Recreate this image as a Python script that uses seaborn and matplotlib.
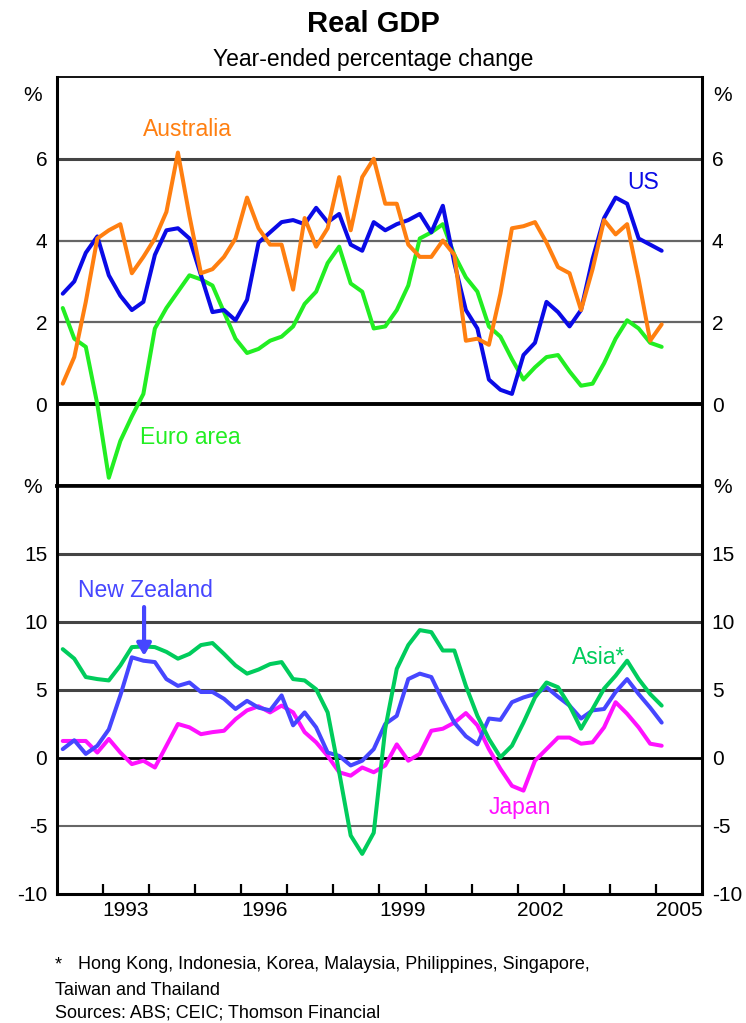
import pandas as pd
import seaborn as sns
import matplotlib.pyplot as plt

# quarterly data, March 1992 to March 2005
quarters = pd.period_range('1992Q1', '2005Q1', freq='Q')

us = [2.7, 3.0, 3.7, 4.1, 3.15, 2.65, 2.3, 2.5, 3.65, 4.25, 4.3, 4.05, 3.15, 2.25,
      2.3, 2.05, 2.55, 3.95, 4.2, 4.45, 4.5, 4.4, 4.8, 4.45, 4.65, 3.9, 3.75, 4.45,
      4.25, 4.4, 4.5, 4.65, 4.2, 4.85, 3.45, 2.3, 1.85, 0.6, 0.35, 0.25, 1.2, 1.5,
      2.5, 2.25, 1.9, 2.3, 3.55, 4.55, 5.05, 4.9, 4.05, 3.9, 3.75]
australia = [0.5, 1.15, 2.5, 4.05, 4.25, 4.4, 3.2, 3.6, 4.05, 4.7, 6.15, 4.6, 3.2, 3.3,
             3.6, 4.05, 5.05, 4.3, 3.9, 3.9, 2.8, 4.55, 3.85, 4.3, 5.55, 4.25, 5.55, 6.0,
             4.9, 4.9, 3.9, 3.6, 3.6, 4.0, 3.65, 1.55, 1.6, 1.45, 2.7, 4.3, 4.35, 4.45,
             3.95, 3.35, 3.2, 2.3, 3.3, 4.5, 4.15, 4.4, 3.05, 1.55, 1.95]
euro_area = [2.35, 1.6, 1.4, 0.0, -1.8, -0.9, -0.3, 0.25, 1.85, 2.35, 2.75, 3.15, 3.05,
             2.9, 2.25, 1.6, 1.25, 1.35, 1.55, 1.65, 1.9, 2.45, 2.75, 3.45, 3.85, 2.95,
             2.75, 1.85, 1.9, 2.3, 2.9, 4.05, 4.2, 4.4, 3.65, 3.1, 2.75, 1.9, 1.65, 1.1,
             0.6, 0.9, 1.15, 1.2, 0.8, 0.45, 0.5, 1.0, 1.6, 2.05, 1.85, 1.5, 1.4]

asia = [8.0, 7.3, 5.95, 5.8, 5.7, 6.8, 8.15, 8.2, 8.15, 7.8, 7.3, 7.65, 8.3, 8.45, 7.65,
        6.8, 6.2, 6.5, 6.9, 7.05, 5.8, 5.7, 5.05, 3.35, -1.05, -5.7, -7.05, -5.5, 2.15,
        6.55, 8.3, 9.4, 9.25, 7.9, 7.9, 5.3, 3.1, 1.4, 0.05, 0.9, 2.6, 4.45, 5.55, 5.2,
        3.85, 2.15, 3.6, 5.1, 6.05, 7.15, 5.8, 4.7, 3.85]
new_zealand = [0.65, 1.3, 0.3, 0.9, 2.1, 4.6, 7.4, 7.15, 7.05, 5.8, 5.3, 5.55, 4.85,
               4.85, 4.35, 3.6, 4.2, 3.7, 3.5, 4.6, 2.4, 3.35, 2.25, 0.4, 0.15, -0.55,
               -0.2, 0.65, 2.5, 3.1, 5.8, 6.2, 5.95, 4.2, 2.6, 1.6, 1.0, 2.9, 2.8, 4.1,
               4.45, 4.7, 5.2, 4.5, 3.85, 2.9, 3.5, 3.6, 4.85, 5.8, 4.7, 3.7, 2.6]
japan = [1.25, 1.25, 1.25, 0.4, 1.4, 0.4, -0.45, -0.2, -0.7, 0.9, 2.5, 2.25, 1.75, 1.9,
         2.0, 2.85, 3.5, 3.8, 3.35, 3.85, 3.35, 1.9, 1.15, 0.15, -1.05, -1.3, -0.7,
         -1.05, -0.55, 1.0, -0.2, 0.3, 2.0, 2.15, 2.6, 3.3, 2.4, 0.65, -0.8, -2.05,
         -2.4, -0.2, 0.65, 1.5, 1.5, 1.05, 1.15, 2.25, 4.1, 3.25, 2.25, 1.05, 0.9]

year_ticks = list(range(1993, 2006))
year_labels = ['1993', '1996', '1999', '2002', '2005']

colors = {'Euro area': '#22ee22', 'US': '#0a0ae6', 'Australia': '#ff7f10',
          'Japan': '#ff11ff', 'New Zealand': '#4646ff', 'Asia*': '#00cc5c'}

# mid-quarter position in decimal years
time = quarters.year + (quarters.quarter - 0.5) / 4

top_df = pd.concat([pd.DataFrame({'time': time, 'value': v, 'series': n})
                    for n, v in [('Euro area', euro_area), ('US', us), ('Australia', australia)]])
bot_df = pd.concat([pd.DataFrame({'time': time, 'value': v, 'series': n})
                    for n, v in [('Japan', japan), ('New Zealand', new_zealand), ('Asia*', asia)]])

sns.set_theme(style='white')
plt.rcParams['font.family'] = ['Liberation Sans', 'DejaVu Sans']
plt.rcParams['text.color'] = 'black'

fig = plt.figure(figsize=(7.46, 10.23), dpi=100)
ax1 = fig.add_axes([0.0764, 0.525, 0.8646, 0.3998])
ax2 = fig.add_axes([0.0764, 0.1261, 0.8646, 0.3989])

# grid lines
for v, lw, c in [(6, 2.2, '#444444'), (4, 1.6, '#666666'), (2, 1.6, '#666666'), (0, 2.8, 'black')]:
    ax1.axhline(v, color=c, lw=lw, zorder=1)
for v, lw, c in [(15, 2.2, '#444444'), (10, 2.2, '#444444'), (5, 2.2, '#444444'),
                 (0, 2.0, 'black'), (-5, 1.5, '#666666')]:
    ax2.axhline(v, color=c, lw=lw, zorder=1)

sns.lineplot(data=top_df, x='time', y='value', hue='series', palette=colors,
             linewidth=2.9, legend=False, ax=ax1, zorder=3)
sns.lineplot(data=bot_df, x='time', y='value', hue='series', palette=colors,
             linewidth=2.9, legend=False, ax=ax2, zorder=3)

for ax in (ax1, ax2):
    ax.set_xlim(1992, 2006)
    ax.set_xlabel('')
    ax.set_ylabel('')
    for s in ax.spines.values():
        s.set_color('black')
        s.set_linewidth(2.2)
    ax.tick_params(axis='y', length=0, labelleft=True, labelright=True, pad=7,
                   labelsize=15, colors='black')

ax1.set_ylim(-2, 8)
ax1.set_yticks([0, 2, 4, 6])
ax1.set_xticks([])
ax1.spines['top'].set_linewidth(1.3)
ax1.spines['bottom'].set_linewidth(2.6)

ax2.set_ylim(-10, 20)
ax2.set_yticks([-10, -5, 0, 5, 10, 15])
ax2.set_yticklabels(['-10', '-5', '0', '5', '10', '15'])
ax2.spines['top'].set_linewidth(2.6)
ax2.set_xticks(year_ticks)
ax2.set_xticklabels([])
ax2.set_xticks([int(y) + 0.5 for y in year_labels], minor=True)
ax2.set_xticklabels(year_labels, minor=True)
ax2.tick_params(axis='x', which='major', direction='in', length=7, width=1.6,
                color='black', bottom=True)
ax2.tick_params(axis='x', which='minor', length=0, labelsize=15, pad=5,
                colors='black', bottom=True)

# percent signs
trans1 = ax1.get_yaxis_transform()
trans2 = ax2.get_yaxis_transform()
for x, ha in [(-0.023, 'right'), (1.017, 'left')]:
    ax1.text(x, 7.55, '%', transform=trans1, ha=ha, va='center', fontsize=15)
    ax2.text(x, 19.9, '%', transform=trans2, ha=ha, va='center', fontsize=15)

# series labels
lab = dict(ha='center', va='center', fontsize=16.5)
ax1.text(1994.83, 6.71, 'Australia', color=colors['Australia'], **lab)
ax1.text(2004.72, 5.43, 'US', color=colors['US'], **lab)
ax1.text(1994.89, -0.81, 'Euro area', color=colors['Euro area'], **lab)
ax2.text(1993.91, 12.33, 'New Zealand', color=colors['New Zealand'], **lab)
ax2.text(2003.76, 7.4, 'Asia*', color=colors['Asia*'], **lab)
ax2.text(2002.04, -3.67, 'Japan', color=colors['Japan'], **lab)
ax2.annotate('', xy=(1993.89, 7.3), xytext=(1993.89, 11.3),
             arrowprops=dict(arrowstyle='-|>,head_width=0.35,head_length=0.6',
                             color=colors['New Zealand'], lw=3), zorder=4)

fig.text(0.5, 0.977, 'Real GDP', ha='center', va='center', fontsize=21, fontweight='bold')
fig.text(0.5, 0.942, 'Year-ended percentage change', ha='center', va='center', fontsize=16.5)

fig.text(55 / 746, 0.057, '*', ha='left', va='center', fontsize=13)
fig.text(78 / 746, 0.057, 'Hong Kong, Indonesia, Korea, Malaysia, Philippines, Singapore,',
         ha='left', va='center', fontsize=13)
fig.text(55 / 746, 0.032, 'Taiwan and Thailand', ha='left', va='center', fontsize=13)
fig.text(55 / 746, 0.0098, 'Sources: ABS; CEIC; Thomson Financial', ha='left',
         va='center', fontsize=13)

plt.savefig('out.png', dpi=100)
plt.close()
